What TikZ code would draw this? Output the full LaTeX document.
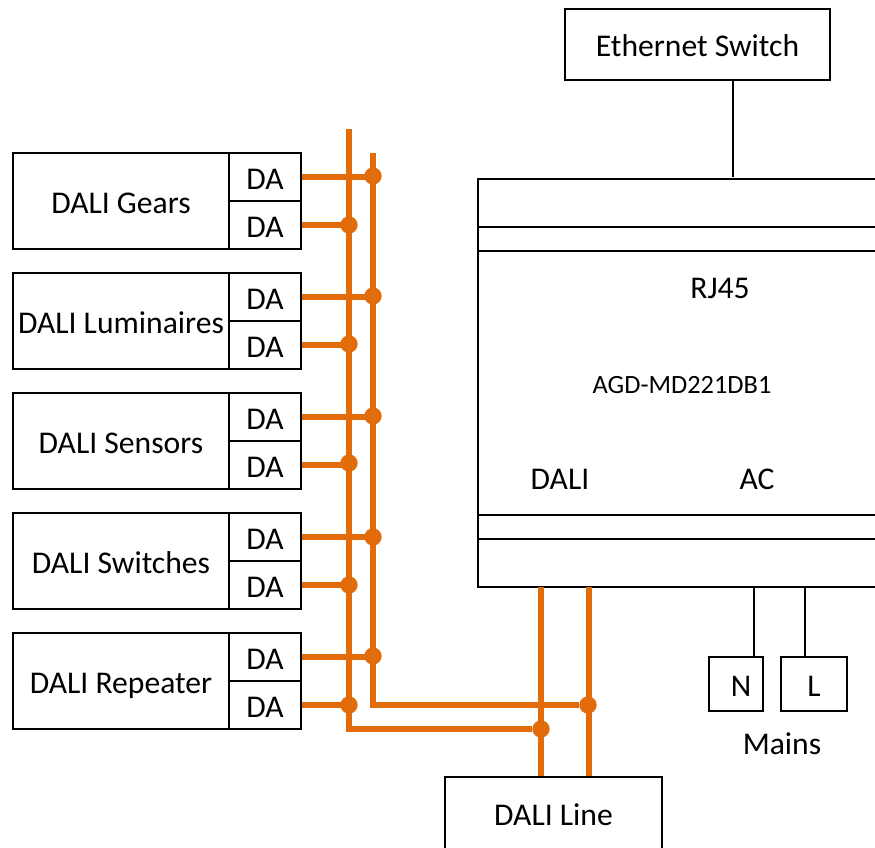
\documentclass[tikz,border=0pt]{standalone}
\usepackage{fontspec}
\setmainfont{Carlito}
\definecolor{busorange}{HTML}{E36C0A}
\tikzset{
  box/.style={draw,line width=1.5pt,minimum width=#1,inner sep=0pt,text height=22pt,text depth=0pt,font=\fontsize{27}{32}\selectfont},
  label/.style={inner sep=0pt,font=\fontsize{27}{32}\selectfont},
  bus/.style={busorange,line width=4.6pt},
  dot/.style={circle,fill=busorange,minimum size=0.52cm,inner sep=0pt},
  wire/.style={line width=1.5pt}
}
\begin{document}
\begin{tikzpicture}[x=0.03cm,y=-0.03cm]
  \useasboundingbox (0,0) rectangle (875,848);

  % Device rows on the left
  \foreach \row/\name/\yy/\ya/\yb in {1/DALI Gears/201/176/225,2/DALI Luminaires/321/296/344,3/DALI Sensors/441/416/463,4/DALI Switches/561/537/585,5/DALI Repeater/681/656/705}{
    \node[box=6.48cm,minimum height=2.88cm] (dev\row) at (121,\yy) {\name};
    \node[box=2.16cm,minimum height=1.44cm] (upper\row) at (265,\yy-24) {DA};
    \node[box=2.16cm,minimum height=1.44cm] (lower\row) at (265,\yy+24) {DA};
    \node[dot] (ja\row) at (373,\ya) {};
    \node[dot] (jb\row) at (349,\yb) {};
    \draw[bus] (upper\row.east) -- (upper\row.east -| ja\row);
    \draw[bus] (lower\row.east) -- (lower\row.east -| jb\row);
  }

  % Module, its right side runs off the page
  \node[draw,line width=1.5pt,outer sep=0pt,minimum width=12.6cm,minimum height=12.24cm,inner sep=0pt,anchor=north west] (module) at (478,179) {};
  \coordinate (pageright) at (875,0);
  \foreach \yy in {227,251,515,539}{
    \coordinate (cut\yy) at (478,\yy);
    \draw[wire] (cut\yy) -- (cut\yy -| pageright);
  }
  \node[label] (rj) at (720,288) {RJ45};
  \node[inner sep=0pt,font=\fontsize{22.5}{27}\selectfont] (model) at (682,385) {AGD-MD221DB1};
  \node[label] (dali) at (560,479) {DALI};
  \node[label] (ac) at (757,479) {AC};

  % Ethernet
  \node[box=7.95cm,minimum height=2.13cm,text height=20pt] (switch) at (697.5,44.5) {Ethernet Switch};
  \coordinate (swport) at (733,177);
  \draw[wire] (switch.south -| swport) -- (swport);

  % Mains
  \node[box=1.62cm,minimum height=1.62cm] (neutral) at (736,684) {};
  \node[box=1.98cm,minimum height=1.62cm] (live) at (814,684) {L};
  \node[label,yshift=-0.08cm] (nlabel) at (741,684) {N};
  \node[label] (mains) at (782,744) {Mains};
  \coordinate (nport) at (754,587);
  \coordinate (lport) at (805,587);
  \draw[wire] (nport) -- (nport |- neutral.north);
  \draw[wire] (lport) -- (lport |- live.north);

  % DALI line and the two buses
  \node[box=6.51cm,minimum height=2.22cm,text height=19pt] (line) at (553.5,814) {DALI Line};
  \node[dot] (jline1) at (541,729) {};
  \node[dot] (jline2) at (588,705) {};
  \coordinate (portA) at (541,587);
  \coordinate (portB) at (589,587);
  \coordinate (busAtop) at (349,129);
  \coordinate (busBtop) at (373,153);
  \draw[bus] (portA) -- (portA |- line.north);
  \draw[bus] (portB) -- (portB |- line.north);
  \draw[bus] (busAtop) -- (busAtop |- jline1) -- (jline1);
  \draw[bus] (busBtop) -- (busBtop |- jline2) -- (jline2);
\end{tikzpicture}
\end{document}
